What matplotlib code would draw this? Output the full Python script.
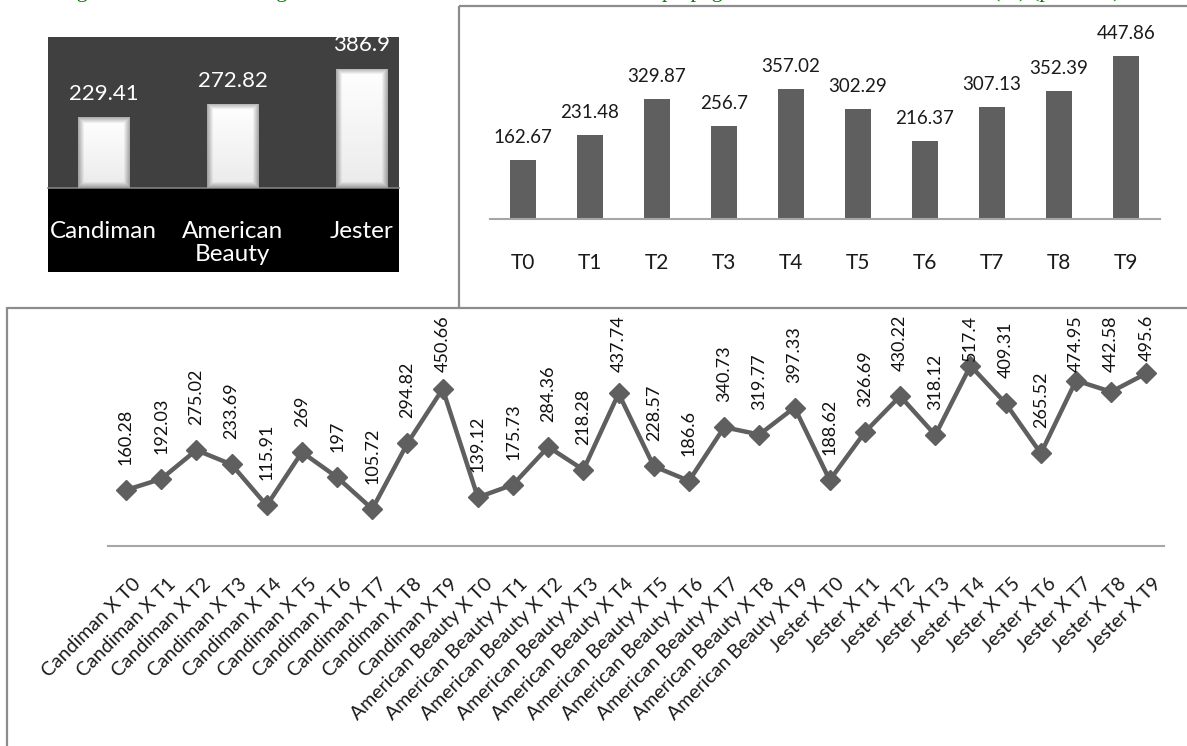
import numpy as np
import matplotlib
matplotlib.use("Agg")
import matplotlib.pyplot as plt
import matplotlib.transforms as mtransforms
from matplotlib.patches import Rectangle
from matplotlib.lines import Line2D

# ---------------- data ----------------
variety_names = ["Candiman", "American\nBeauty", "Jester"]
variety_values = [229.41, 272.82, 386.9]

treat_names = ["T0", "T1", "T2", "T3", "T4", "T5", "T6", "T7", "T8", "T9"]
treat_values = [162.67, 231.48, 329.87, 256.7, 357.02, 302.29, 216.37, 307.13, 352.39, 447.86]

combo_varieties = ["Candiman", "American Beauty", "Jester"]
combo_labels = [f"{v} X {t}" for v in combo_varieties for t in treat_names]
combo_values = [160.28, 192.03, 275.02, 233.69, 115.91, 269, 197, 105.72, 294.82, 450.66,
                139.12, 175.73, 284.36, 218.28, 437.74, 228.57, 186.6, 340.73, 319.77, 397.33,
                188.62, 326.69, 430.22, 318.12, 517.4, 409.31, 265.52, 474.95, 442.58, 495.6]

caption_parts = ["Fig.", "weight", "propagation", "(%) (p \u2264 0.05)"]

# ---------------- figure ----------------
W, H = 1187, 746
plt.rcParams['font.family'] = ['Lato', 'DejaVu Sans']
fig = plt.figure(figsize=(W / 100, H / 100), dpi=100)
fig.patch.set_facecolor("white")


def px_axes(x0, y0, x1, y1, **kw):
    return fig.add_axes([x0 / W, 1 - y1 / H, (x1 - x0) / W, (y1 - y0) / H], **kw)


def fig_line(xs, ys, **kw):
    fig.add_artist(Line2D([x / W for x in xs], [1 - y / H for y in ys],
                          transform=fig.transFigure, **kw))


# caption cut off by the top edge (only descenders visible, as in the reference)
cap_x = [58, 245, 662, 993]
for txt, x in zip(caption_parts, cap_x):
    fig.text(x / W, 1 + 2.5 / H, txt, color="#007f00", fontsize=16,
             family="Liberation Serif", va="baseline", ha="left")

# panel borders
border = dict(color="#8c8c8c", lw=1.6, solid_capstyle="butt")
fig_line([459, 1187], [6, 6], **border)
fig_line([459, 459], [6, 307], **border)
fig_line([7, 1187], [307.5, 307.5], **border)
fig_line([7, 7], [307, 746], **border)

# ---------------- panel 1 ----------------
fig.add_artist(Rectangle((48 / W, 1 - 272 / H), (399 - 48) / W, (272 - 188) / H,
                         transform=fig.transFigure, facecolor="black", edgecolor="none",
                         zorder=-5))
ax1 = px_axes(48, 37, 399, 188)
ax1.set_facecolor("#404040")
bars1 = ax1.bar(range(3), variety_values, width=0.4, color="#f2f2f2", edgecolor="none", zorder=2)
for b in bars1:
    x0, w, h = b.get_x(), b.get_width(), b.get_height()
    nx, ny = 52, max(int(h * 0.308), 2)
    u = np.linspace(0, 1, nx)[None, :] * nx
    v = np.linspace(0, 1, ny)[:, None] * ny
    d = np.minimum(np.minimum(u, nx - u), np.minimum(v, ny - v))
    shade = np.clip(d / 6.0, 0, 1)
    vert = 0.92 + 0.08 * np.linspace(0, 1, ny)[:, None]
    val = (0.68 + 0.32 * shade) * vert + 0 * u
    img = np.dstack([val, val, val])
    im = ax1.imshow(img, extent=(x0, x0 + w, 0, h), origin="lower", aspect="auto",
                    zorder=3, interpolation="bilinear")
    im.set_clip_path(b)
for i, v in enumerate(variety_values):
    ax1.annotate(f"{v:g}", (i, v), xytext=(0, 12.5), textcoords="offset points",
                 ha="center", va="baseline", color="white", fontsize=16, zorder=5,
                 annotation_clip=False)
ax1.set_xlim(-0.43, 2.29)
ax1.set_ylim(0, 490)
ax1.set_yticks([])
ax1.set_xticks(range(3))
ax1.set_xticklabels(variety_names, color="white", fontsize=17.5, linespacing=1.08)
ax1.tick_params(axis="x", length=0, pad=24)
for s in ["top", "left", "right"]:
    ax1.spines[s].set_visible(False)
ax1.spines["bottom"].set_color("#808080")
ax1.spines["bottom"].set_linewidth(1.2)

# ---------------- panel 2 ----------------
ax2 = px_axes(489.5, 20, 1159.5, 219.5)
ax2.bar(range(10), treat_values, width=0.4, color="#5f5f5f", edgecolor="none")
for i, v in enumerate(treat_values):
    ax2.annotate(f"{v:g}", (i, v), xytext=(0, 12.2), textcoords="offset points",
                 ha="center", va="baseline", color="#1a1a1a", fontsize=13.5,
                 annotation_clip=False)
ax2.set_xlim(-0.5, 9.5)
ax2.set_ylim(0, 546.6)
ax2.set_yticks([])
ax2.set_xticks(range(10))
ax2.set_xticklabels(treat_names, fontsize=15, color="#1a1a1a")
ax2.tick_params(axis="x", length=0, pad=24)
for s in ["top", "left", "right"]:
    ax2.spines[s].set_visible(False)
ax2.spines["bottom"].set_color("#a6a6a6")
ax2.spines["bottom"].set_linewidth(1.5)
ax2.patch.set_alpha(0)

# ---------------- panel 3 ----------------
ax3 = px_axes(108.4, 310, 1164, 545.8)
xs = np.arange(len(combo_values))
ax3.plot(xs, combo_values, color="#5f5f5f", lw=3.2, marker="D", markersize=10,
         markerfacecolor="#5f5f5f", markeredgecolor="#5f5f5f", zorder=3, clip_on=False)
ax3.set_xlim(-0.5, 29.5)
ax3.set_ylim(0, 677.6)
ax3.set_yticks([])
ax3.set_xticks(xs)
ax3.set_xticklabels(combo_labels, rotation=45, ha="right", va="top",
                    rotation_mode="anchor", fontsize=14, color="#1a1a1a")
ax3.tick_params(axis="x", length=0, pad=21)
shift = mtransforms.ScaledTranslation(6 / 100, 0, fig.dpi_scale_trans)
for lab in ax3.get_xticklabels():
    lab.set_transform(lab.get_transform() + shift)
for s in ["top", "left", "right"]:
    ax3.spines[s].set_visible(False)
ax3.spines["bottom"].set_color("#a6a6a6")
ax3.spines["bottom"].set_linewidth(1.5)
ax3.patch.set_alpha(0)

off_pts = 18.0
labels3 = []
for i, v in enumerate(combo_values):
    t = ax3.annotate(f"{v:g}", (i, v), xytext=(0, off_pts), textcoords="offset points",
                     ha="center", va="bottom", rotation=90, fontsize=13,
                     color="#111111", zorder=5, annotation_clip=False)
    labels3.append(t)

fig.canvas.draw()
top_limit = 315  # px from top
for t in labels3:
    bb = t.get_window_extent()
    top_from_top = H - bb.y1
    if top_from_top < top_limit:
        d = top_limit - top_from_top
        t.xyann = (0, off_pts - d * 72 / 100)

fig.savefig("out.png", dpi=100)
